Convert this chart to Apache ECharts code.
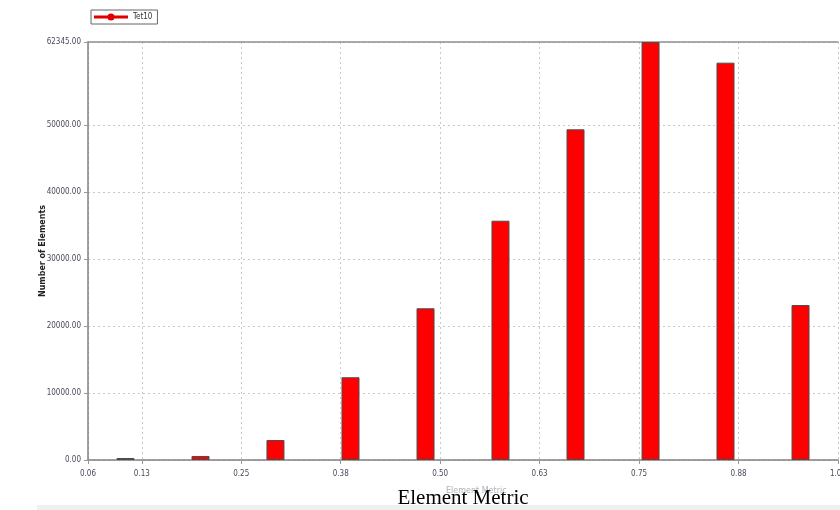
<!DOCTYPE html>
<html>
<head>
<meta charset="utf-8">
<script src="https://cdn.jsdelivr.net/npm/echarts@6/dist/echarts.min.js"></script>
<style>html,body{margin:0;padding:0;background:#fff;}#chart{width:840px;height:510px;}</style>
</head>
<body>
<div id="chart"></div>
<script>
var seriesName = 'Tet10';
var binCenters = [0.1045, 0.1988, 0.2930, 0.3873, 0.4816, 0.5758, 0.6701, 0.7644, 0.8586, 0.9529];
var counts = [300, 600, 2980, 12340, 22630, 35690, 49320, 62345, 59260, 23120];
var xTicks = [0.0574, 0.125, 0.25, 0.375, 0.5, 0.625, 0.75, 0.875, 1.0];
var yTicks = [0, 10000, 20000, 30000, 40000, 50000, 62345];
var xMin = 0.0574, xMax = 1.0, yMax = 62345;

var chart = echarts.init(document.getElementById('chart'));
var barData = binCenters.map(function (x, i) { return [x, counts[i]]; });
var labelFont = { fontSize: 8, color: '#4a4a5a', fontFamily: 'DejaVu Sans Condensed, Liberation Sans, sans-serif' };

chart.setOption({
  animation: false,
  backgroundColor: '#fff',
  grid: { left: 88, right: 2, top: 42, bottom: 50, containLabel: false, outerBoundsMode: 'none' },
  legend: {
    left: 91, top: 10,
    orient: 'horizontal',
    borderColor: '#666', borderWidth: 1, padding: [3, 5, 3, 3],
    itemWidth: 34, itemHeight: 8, itemGap: 4,
    textStyle: { fontSize: 8, color: '#333', fontFamily: 'DejaVu Sans Condensed, sans-serif' },
    itemStyle: { color: '#e00000', borderWidth: 0 },
    data: [{ name: seriesName, icon: 'path://M0,2.6 L34,2.6 L34,5.4 L0,5.4 Z M13.4,4 a3.6,3.6 0 1,1 7.2,0 a3.6,3.6 0 1,1 -7.2,0 Z', itemStyle: { color: '#e00000', borderWidth: 0 } }]
  },
  xAxis: [{
    type: 'value', min: xMin, max: xMax, position: 'bottom',
    name: 'Element Metric', nameLocation: 'middle', nameGap: 28,
    nameTextStyle: { fontSize: 21, color: '#000', fontFamily: 'Liberation Serif, Times New Roman, serif' },
    axisLine: { show: true, lineStyle: { color: '#808080', width: 1.5 } },
    axisTick: { show: true, length: 4, customValues: xTicks, lineStyle: { color: '#999' } },
    axisLabel: Object.assign({ customValues: xTicks, margin: 10, formatter: function (v) { return v.toFixed(2); } }, labelFont),
    splitLine: { show: true, lineStyle: { color: '#c8c8c8', type: [2, 3], width: 1 } }
  }, {
    type: 'value', min: xMin, max: xMax, position: 'top',
    axisLine: { show: true, onZero: false, lineStyle: { color: '#909090', width: 1.5 } },
    axisTick: { show: false }, axisLabel: { show: false }, splitLine: { show: false }
  }],
  yAxis: {
    type: 'value', min: 0, max: yMax,
    name: 'Number of Elements', nameLocation: 'middle', nameGap: 41, nameRotate: 90, nameMoveOverlap: false,
    nameTextStyle: { fontSize: 8, fontWeight: 'bold', color: '#222', fontFamily: 'DejaVu Sans, sans-serif' },
    axisLine: { show: true, lineStyle: { color: '#808080', width: 1.5 } },
    axisTick: { show: true, length: 4, customValues: yTicks, lineStyle: { color: '#999' } },
    axisLabel: Object.assign({ customValues: yTicks, margin: 7, formatter: function (v) { return v.toFixed(2); } }, labelFont),
    splitLine: { show: true, lineStyle: { color: '#c8c8c8', type: [2, 3], width: 1 } }
  },
  graphic: [
    { type: 'text', left: 446, top: 487, style: { text: 'Element Metric', fontSize: 8, fill: '#b0b0b8', fontFamily: 'DejaVu Sans, sans-serif' }, z: -1 },
    { type: 'rect', shape: { x: 37, y: 505, width: 803, height: 5 }, style: { fill: '#f0f0f0' }, z: -2 }
  ],
  series: [{
    name: seriesName, type: 'bar', xAxisIndex: 0,
    data: barData, barWidth: 18,
    itemStyle: { color: '#ff0000', borderColor: '#4d4d4d', borderWidth: 1 }
  }]
});
</script>
</body>
</html>
